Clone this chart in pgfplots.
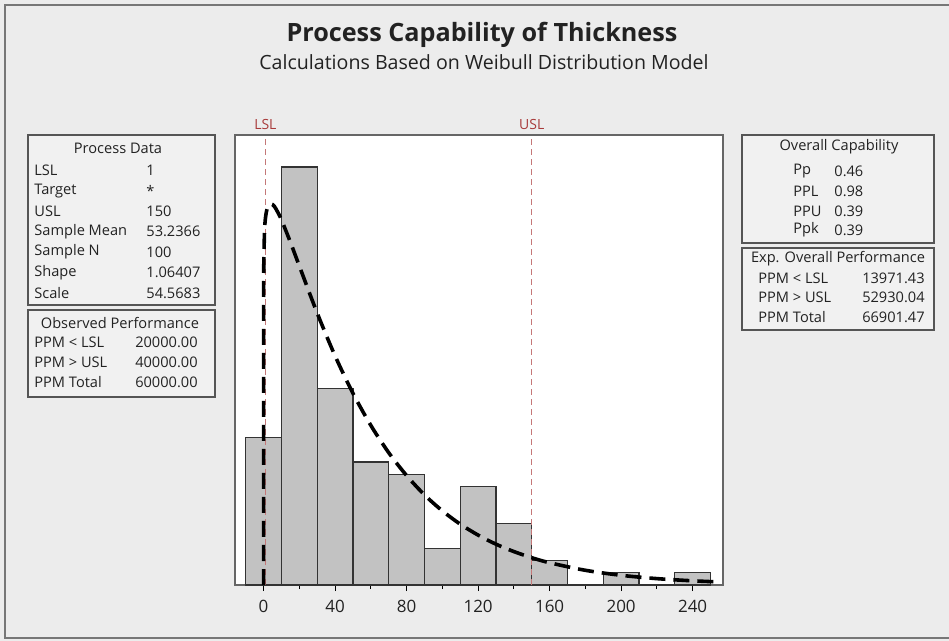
\documentclass[border=0pt]{standalone}
\usepackage{pgfplots}
\pgfplotsset{compat=1.18}
\usepackage{fontspec}
\setmainfont{Open Sans}
\setsansfont{Open Sans}
\definecolor{bg}{HTML}{ECECEC}
\definecolor{boxfill}{HTML}{F1F1F1}
\definecolor{frame}{HTML}{555555}
\definecolor{barfill}{HTML}{C2C2C2}
\definecolor{specline}{HTML}{C47878}
\definecolor{speclab}{HTML}{A83A3A}
\definecolor{txt}{HTML}{222222}
\begin{document}
\begin{tikzpicture}
\begin{scope}[x=0.5pt,y=-0.5pt]
  \fill[bg] (0,0) rectangle (949,641);
  \draw[frame!80, line width=1.2pt] (949,5) -- (5,5) -- (5,638) -- (949,638);
  % title
  \node[txt, font=\fontsize{12.6}{14}\selectfont\bfseries] at (482,35) {Process Capability of Thickness};
  \node[txt, font=\fontsize{9.8}{11}\selectfont] at (484,62) {Calculations Based on Weibull Distribution Model};
  % boxes
  \tikzset{bx/.style={draw=frame, line width=1pt, fill=boxfill}, sm/.style={txt, font=\fontsize{7.3}{8}\selectfont, inner sep=0pt}}
  \draw[bx] (28,135) rectangle (215,305);
  \draw[bx] (28,310) rectangle (215,397);
  \draw[bx] (742,135) rectangle (934,243);
  \draw[bx] (742,248) rectangle (934,330);
  % Process data
  \node[sm] at (118,148) {Process Data};
  \foreach \y/\l/\v in {170/LSL/1, 190.6/Target/*, 211/USL/150, 231.6/Sample Mean/53.2366, 252.2/Sample N/100, 272.8/Shape/1.06407, 293.4/Scale/54.5683}{
    \node[sm, anchor=west] at (34,\y) {\l};
    \node[sm, anchor=west] at (146,\y) {\v};
  }
  \node[sm] at (120,323) {Observed Performance};
  \foreach \y/\l/\v in {342/PPM < LSL/20000.00, 362/PPM > USL/40000.00, 382/PPM Total/60000.00}{
    \node[sm, anchor=west] at (34,\y) {\l};
    \node[sm, anchor=east] at (198,\y) {\v};
  }
  % Overall capability
  \node[sm] at (839,147) {Overall Capability};
  \foreach \y/\l/\v in {171/Pp/0.46, 191/PPL/0.98, 211/PPU/0.39, 230/Ppk/0.39}{
    \node[sm, anchor=west] at (793,\y) {\l};
    \node[sm, anchor=west] at (834,\y) {\v};
  }
  \node[sm] at (838,259) {Exp. Overall Performance};
  \foreach \y/\l/\v in {278/PPM < LSL/13971.43, 297/PPM > USL/52930.04, 317/PPM Total/66901.47}{
    \node[sm, anchor=west] at (758,\y) {\l};
    \node[sm, anchor=east] at (925,\y) {\v};
  }
\end{scope}
\begin{axis}[
  at={(117.5pt,-292.5pt)}, anchor=south west,
  scale only axis, width=244pt, height=225pt,
  xmin=-16, xmax=257, ymin=0, ymax=36.6,
  axis background/.style={fill=white},
  axis line style={draw=gray!80!black, line width=0.6pt},
  ytick=\empty,
  xtick={0,40,80,120,160,200,240},
  minor xtick={20,60,100,140,180,220},
  xtick pos=bottom, tick align=outside,
  major tick length=3pt, minor tick length=2pt,
  tick style={black, line width=0.6pt},
  ticklabel style={font=\fontsize{8.5}{10}\selectfont, text=txt},
  /pgf/number format/assume math mode=true,
  xticklabel style={yshift=-1pt},
  clip mode=individual,
]
\addplot[ybar interval, fill=barfill, draw=black!80, line width=0.6pt] coordinates {
(-10,12) (10,34) (30,16) (50,10) (70,9) (90,3) (110,8) (130,5) (150,2) (170,0) (190,1) (210,0) (230,1) (250,1)};
\addplot[specline, line width=0.7pt, dash pattern=on 3pt off 2pt] coordinates {(1,0) (1,36.6)};
\addplot[specline, line width=0.7pt, dash pattern=on 3pt off 2pt] coordinates {(150,0) (150,36.6)};
\addplot[black, line width=1.8pt, dash pattern=on 8pt off 4pt, smooth] coordinates {
(0,0) (0.0001,16.7) (0.001,19.4) (0.01,22.5) (0.1,26.0) (0.5,28.7) (1,29.8) (2,30.6) (4,31.0) (6,30.8) (8,30.3) (10,29.7) (15,27.88) (20,25.94) (30,22.11) (40,18.63) (50,15.59) (60,12.98) (70,10.76) (80,8.90) (90,7.33) (100,6.03) (110,4.95) (120,4.06) (130,3.32) (140,2.72) (150,2.22) (160,1.81) (180,1.196) (200,0.789) (220,0.519) (240,0.341) (256,0.242)};
\node[speclab, font=\fontsize{7}{8}\selectfont, anchor=south, inner sep=0pt] at (axis cs:1,36.6) [yshift=2.5pt] {LSL};
\node[speclab, font=\fontsize{7}{8}\selectfont, anchor=south, inner sep=0pt] at (axis cs:150,36.6) [yshift=2.5pt] {USL};
\end{axis}
\begin{scope}[x=0.5pt,y=-0.5pt]
\pgfresetboundingbox
\path[use as bounding box] (0,0) rectangle (949,641);
\end{scope}
\end{tikzpicture}
\end{document}
